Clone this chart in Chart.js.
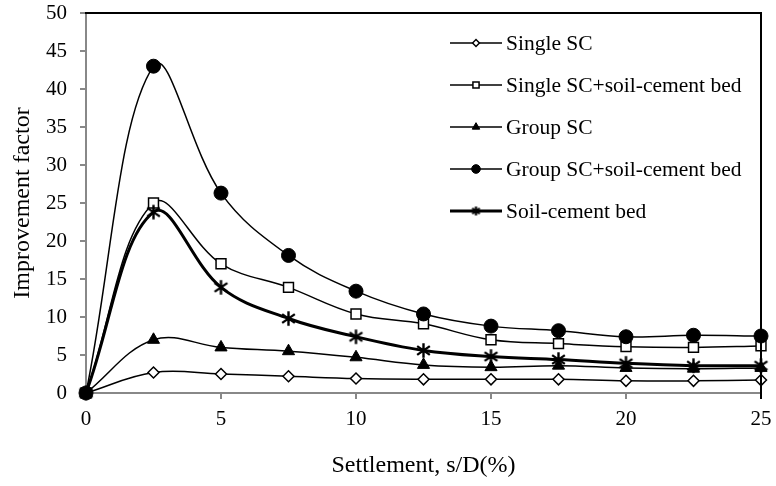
<!DOCTYPE html>
<html>
<head>
<meta charset="utf-8">
<script src="https://cdn.jsdelivr.net/npm/chart.js@4/dist/chart.umd.min.js"></script>
<style>
  html, body { margin: 0; padding: 0; background: #fff; }
  #wrap { width: 776px; height: 486px; }
</style>
</head>
<body>
<div id="wrap"><canvas id="chart" width="776" height="486"></canvas></div>
<script>
// ── DATA ─────────────────────────────────────────────────
const settlement   = [0, 2.5, 5, 7.5, 10, 12.5, 15, 17.5, 20, 22.5, 25];
const singleSC     = [0, 2.7, 2.5, 2.2, 1.9, 1.8, 1.8, 1.8, 1.6, 1.6, 1.7];
const singleSCBed  = [0, 25.0, 17.0, 13.9, 10.4, 9.1, 7.0, 6.5, 6.1, 6.0, 6.2];
const groupSC      = [0, 7.0, 6.0, 5.5, 4.7, 3.7, 3.4, 3.6, 3.3, 3.2, 3.3];
const groupSCBed   = [0, 43.0, 26.3, 18.1, 13.4, 10.4, 8.8, 8.2, 7.4, 7.6, 7.5];
const soilCemBed   = [0, 23.8, 13.9, 9.8, 7.4, 5.6, 4.8, 4.4, 3.9, 3.6, 3.6];
const seriesNames  = ['Single SC', 'Single SC+soil-cement bed', 'Group SC', 'Group SC+soil-cement bed', 'Soil-cement bed'];
const xTicks = [0, 5, 10, 15, 20, 25];
const yTicks = [0, 5, 10, 15, 20, 25, 30, 35, 40, 45, 50];

const serif = "'Liberation Serif', 'Times New Roman', serif";
const toXY = arr => arr.map((v, i) => ({ x: settlement[i], y: v }));

// Excel-like asterisk marker (x + vertical bar)
function asterisk(size, lw) {
  const c = document.createElement('canvas');
  c.width = c.height = size;
  const g = c.getContext('2d');
  const m = size / 2, r = size / 2 - lw / 2;
  g.strokeStyle = '#000';
  g.lineWidth = lw;
  g.beginPath();
  g.moveTo(m, m - r); g.lineTo(m, m + r);
  g.moveTo(m - r * 0.87, m - r * 0.6); g.lineTo(m + r * 0.87, m + r * 0.6);
  g.moveTo(m + r * 0.87, m - r * 0.6); g.lineTo(m - r * 0.87, m + r * 0.6);
  g.stroke();
  return c;
}
const starBig = asterisk(17, 2.4);
const starSmall = asterisk(11, 2.2);

// marker look per series
const styles = [
  { pointStyle: 'rectRot',  radius: 5.5, fill: '#fff', width: 1.5, line: 1.5 },
  { pointStyle: 'rect',     radius: 7,   fill: '#fff', width: 1.5, line: 1.5 },
  { pointStyle: 'triangle', radius: 7,   fill: '#000', width: 1,   line: 1.5 },
  { pointStyle: 'circle',   radius: 7,   fill: '#000', width: 1,   line: 1.5 },
  { pointStyle: starBig,    radius: 7,   fill: '#000', width: 2.5, line: 3, legendStyle: starSmall }
];

const values = [singleSC, singleSCBed, groupSC, groupSCBed, soilCemBed];
const datasets = values.map((vals, i) => ({
  label: seriesNames[i],
  data: toXY(vals),
  order: values.length - i,   // later series on top, like the original
  borderColor: '#000',
  borderWidth: styles[i].line,
  pointStyle: styles[i].pointStyle,
  pointRadius: styles[i].radius,
  pointBackgroundColor: styles[i].fill,
  pointBorderColor: '#000',
  pointBorderWidth: styles[i].width,
  tension: 0.38,
  clip: false,
  fill: false
}));

// frame on top + right, legend drawn inside the plot
const framePlugin = {
  id: 'frame',
  afterDraw(chart) {
    const { ctx, chartArea: a } = chart;
    ctx.save();
    ctx.strokeStyle = '#000';
    ctx.lineWidth = 2;
    ctx.beginPath();
    ctx.moveTo(a.left - 1, a.top);
    ctx.lineTo(a.right, a.top);
    ctx.lineTo(a.right, a.bottom + 6);
    ctx.stroke();

    // legend
    const x0 = 450, x1 = 502, tx = 506;
    ctx.font = '21.5px ' + serif;
    ctx.textBaseline = 'middle';
    seriesNames.forEach((name, i) => {
      const y = 43 + i * 42;
      ctx.lineWidth = styles[i].line;
      ctx.strokeStyle = '#000';
      ctx.beginPath();
      ctx.moveTo(x0, y);
      ctx.lineTo(x1, y);
      ctx.stroke();
      ctx.fillStyle = styles[i].fill;
      ctx.lineWidth = Math.min(styles[i].width, 2);
      Chart.helpers.drawPoint(ctx, {
        pointStyle: styles[i].legendStyle || styles[i].pointStyle,
        radius: styles[i].radius * 0.62,
        rotation: 0,
        borderWidth: ctx.lineWidth
      }, (x0 + x1) / 2, y);
      ctx.fillStyle = '#000';
      ctx.fillText(name, tx, y + 1);
    });
    ctx.restore();
  }
};

new Chart(document.getElementById('chart'), {
  type: 'line',
  data: { datasets },
  plugins: [framePlugin],
  options: {
    responsive: false,
    animation: false,
    devicePixelRatio: 1,
    layout: { autoPadding: false, padding: { top: 13, right: 15, left: 0, bottom: 0 } },
    plugins: { legend: { display: false }, tooltip: { enabled: false } },
    scales: {
      x: {
        type: 'linear',
        min: 0, max: 25,
        afterFit: s => { s.height = 93; s.paddingLeft = 0; s.paddingRight = 0; },
        afterBuildTicks: s => { s.ticks = xTicks.map(v => ({ value: v })); },
        border: { color: '#888', width: 2 },
        grid: { drawOnChartArea: false, drawTicks: true, tickLength: 6, color: '#888', lineWidth: 2 },
        ticks: { color: '#000', font: { family: serif, size: 21 }, padding: 8, maxRotation: 0 },
        title: {
          display: true, text: 'Settlement, s/D(%)', color: '#000',
          font: { family: serif, size: 24 }, padding: { top: 0, bottom: 6 }
        }
      },
      y: {
        min: 0, max: 50,
        afterFit: s => { s.width = 86; s.paddingTop = 0; s.paddingBottom = 0; },
        afterBuildTicks: s => { s.ticks = yTicks.map(v => ({ value: v })); },
        border: { color: '#888', width: 2 },
        grid: { drawOnChartArea: false, drawTicks: true, tickLength: 6, color: '#888', lineWidth: 2 },
        ticks: { color: '#000', font: { family: serif, size: 21 }, padding: 13 },
        title: {
          display: true, text: 'Improvement factor', color: '#000',
          font: { family: serif, size: 24 }, padding: { top: 8, bottom: 0 }
        }
      }
    }
  }
});
</script>
</body>
</html>
